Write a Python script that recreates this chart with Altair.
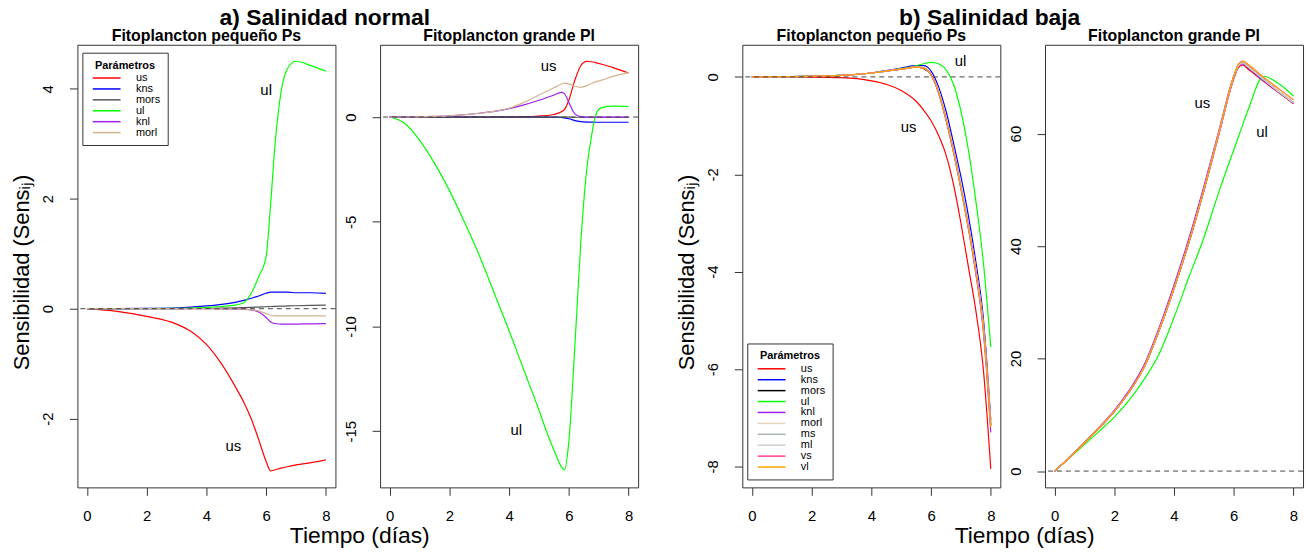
import altair as alt
import pandas as pd

FONT = "Liberation Sans"

# ---------------- a) Salinidad normal : Fitoplancton pequeño Ps ----------------
PARAMS_A = ["us", "kns", "mors", "ul", "knl", "morl"]
COLORS_A = ["#FF0000", "#0000FF", "#555555", "#00FF00", "#A020F0", "#D2B48C"]

T_A_PS = [0, 1, 2, 3, 3.5, 4, 4.5, 5, 5.25, 5.5, 5.75, 6, 6.15, 6.3, 6.5, 6.75, 7, 7.5, 8]
A_PS_US = [0, -0.05, -0.14, -0.28, -0.42, -0.65, -1.0, -1.45, -1.7, -2.0, -2.38, -2.78, -2.95, -2.93, -2.9, -2.87, -2.84, -2.8, -2.75]
A_PS_KNS = [0, 0.001, 0.005, 0.015, 0.03, 0.05, 0.08, 0.12, 0.15, 0.19, 0.23, 0.28, 0.3, 0.3, 0.3, 0.3, 0.29, 0.29, 0.28]
A_PS_MORS = [0, 0, 0.001, 0.002, 0.004, 0.006, 0.01, 0.015, 0.02, 0.025, 0.03, 0.035, 0.04, 0.042, 0.045, 0.05, 0.054, 0.06, 0.066]
A_PS_UL = [0, 0, 0.002, 0.006, 0.01, 0.02, 0.04, 0.07, 0.11, 0.28, 0.58, 0.95, 1.9, 3.0, 3.95, 4.4, 4.5, 4.42, 4.32]
A_PS_KNL = [0, 0, 0, 0, 0, -0.001, -0.002, -0.005, -0.01, -0.02, -0.06, -0.16, -0.24, -0.27, -0.28, -0.28, -0.28, -0.275, -0.27]
A_PS_MORL = [0, 0, 0, 0, 0, -0.001, -0.002, -0.005, -0.01, -0.02, -0.04, -0.09, -0.12, -0.13, -0.13, -0.13, -0.13, -0.13, -0.13]

# ---------------- a) Salinidad normal : Fitoplancton grande Pl ----------------
T_A_PL = [0, 0.5, 1, 1.5, 2, 2.5, 3, 3.5, 4, 4.5, 5, 5.25, 5.5, 5.75, 5.85, 6, 6.2, 6.4, 6.6, 6.75, 6.9, 7.1, 7.5, 8]
A_PL_US = [0, 0, 0, 0, 0, 0, 0, 0.005, 0.01, 0.02, 0.05, 0.07, 0.12, 0.25, 0.35, 0.8, 1.75, 2.45, 2.66, 2.64, 2.6, 2.52, 2.35, 2.1]
A_PL_KNS = [0, 0, 0, 0, 0, 0, 0, 0, 0, 0, 0, 0, 0, -0.02, -0.04, -0.08, -0.17, -0.22, -0.24, -0.245, -0.25, -0.25, -0.25, -0.25]
A_PL_MORS = [0, 0, 0, 0, 0, 0, 0, 0, 0, 0, 0, 0, 0, 0, 0, -0.005, -0.01, -0.01, -0.01, -0.01, -0.01, -0.01, -0.01, -0.01]
A_PL_UL = [0, -0.3, -1.1, -2.2, -3.5, -5.0, -6.6, -8.4, -10.2, -12.1, -14.0, -15.0, -15.9, -16.7, -16.85, -15.5, -11.0, -6.0, -2.5, -1.0, 0.1, 0.45, 0.52, 0.5]
A_PL_KNL = [0, 0.003, 0.01, 0.03, 0.06, 0.11, 0.18, 0.27, 0.4, 0.58, 0.8, 0.92, 1.05, 1.18, 1.12, 0.7, 0.15, 0.02, 0, 0, 0, 0, 0, 0]
A_PL_MORL = [0, 0.003, 0.01, 0.03, 0.06, 0.11, 0.18, 0.27, 0.42, 0.7, 1.05, 1.22, 1.4, 1.58, 1.62, 1.58, 1.47, 1.42, 1.5, 1.6, 1.68, 1.76, 1.95, 2.12]

# ---------------- b) Salinidad baja ----------------
PARAMS_B = ["us", "kns", "mors", "ul", "knl", "morl", "ms", "ml", "vs", "vl"]
COLORS_B = ["#FF0000", "#0000FF", "#000000", "#00FF00", "#A020F0", "#E6D5BC",
            "#A9B1B1", "#CFCFCF", "#FF3E96", "#FFA500"]

T_B_PS = [0, 1, 2, 3, 4, 4.5, 5, 5.5, 5.75, 6, 6.25, 6.5, 6.75, 7, 7.25, 7.5, 7.75, 8]
B_PS_US = [0, 0, -0.003, -0.015, -0.08, -0.15, -0.28, -0.5, -0.68, -0.9, -1.2, -1.6, -2.2, -3.0, -3.9, -4.8, -6.0, -8.05]
B_PS_KNS = [0, 0.005, 0.01, 0.03, 0.08, 0.13, 0.18, 0.23, 0.23, 0.12, -0.2, -0.7, -1.35, -2.05, -2.85, -3.8, -4.95, -7.05]
B_PS_MORS = [0, 0.005, 0.01, 0.03, 0.08, 0.12, 0.16, 0.2, 0.17, 0.04, -0.32, -0.87, -1.52, -2.27, -3.07, -3.97, -5.12, -7.15]
B_PS_UL = [0, 0.005, 0.01, 0.03, 0.08, 0.12, 0.17, 0.23, 0.27, 0.3, 0.27, 0.15, -0.15, -0.7, -1.5, -2.55, -3.8, -5.55]
B_PS_KNL = [0, 0.005, 0.01, 0.03, 0.08, 0.12, 0.16, 0.2, 0.18, 0.04, -0.32, -0.88, -1.55, -2.3, -3.12, -4.05, -5.22, -7.3]
B_PS_MORL = [0, 0.005, 0.01, 0.03, 0.08, 0.12, 0.16, 0.2, 0.18, 0.05, -0.3, -0.85, -1.5, -2.25, -3.05, -3.95, -5.1, -7.15]
B_PS_MS = [0, 0.005, 0.01, 0.03, 0.08, 0.12, 0.16, 0.2, 0.18, 0.05, -0.3, -0.85, -1.5, -2.25, -3.05, -3.95, -5.1, -7.15]
B_PS_ML = [0, 0.005, 0.01, 0.03, 0.08, 0.12, 0.16, 0.2, 0.18, 0.05, -0.3, -0.85, -1.5, -2.25, -3.05, -3.95, -5.1, -7.15]
B_PS_VS = [0, 0.005, 0.01, 0.03, 0.08, 0.12, 0.16, 0.2, 0.18, 0.05, -0.31, -0.86, -1.51, -2.27, -3.08, -3.98, -5.14, -7.18]
B_PS_VL = [0, 0.005, 0.01, 0.03, 0.08, 0.12, 0.16, 0.2, 0.18, 0.05, -0.31, -0.86, -1.52, -2.28, -3.09, -4.0, -5.16, -7.2]

T_B_PL = [0, 0.5, 1, 1.5, 2, 2.5, 3, 3.5, 4, 4.5, 5, 5.5, 6, 6.15, 6.3, 6.5, 7, 7.5, 8]
B_PL_US = [0, 2.4, 5.0, 7.7, 10.6, 14.1, 18.5, 25.0, 32.4, 40.6, 49.8, 59.8, 69.7, 71.7, 72.2, 71.4, 69.3, 67.3, 65.3]
B_PL_KNS = [0, 2.4, 5.0, 7.7, 10.6, 14.1, 18.5, 25.0, 32.5, 40.8, 50.0, 60.0, 70.0, 72.0, 72.6, 71.8, 69.6, 67.5, 65.5]
B_PL_MORS = [0, 2.4, 5.0, 7.7, 10.6, 14.1, 18.5, 25.0, 32.5, 40.8, 50.0, 60.0, 70.0, 72.0, 72.6, 71.8, 69.6, 67.5, 65.5]
B_PL_UL = [0, 2.3, 4.7, 7.1, 9.6, 12.6, 16.3, 20.8, 27.3, 34.5, 41.5, 49.6, 57.1, 59.3, 61.6, 64.5, 70.2, 68.9, 66.7]
B_PL_KNL = [0, 2.45, 5.1, 7.85, 10.8, 14.4, 18.9, 25.5, 33.1, 41.4, 50.6, 60.5, 70.2, 72.0, 72.4, 71.6, 69.4, 67.4, 65.4]
B_PL_MORL = [0, 2.4, 5.0, 7.7, 10.6, 14.1, 18.5, 25.0, 32.5, 40.8, 50.0, 60.0, 70.0, 72.0, 72.6, 71.8, 69.6, 67.5, 65.5]
B_PL_MS = [0, 2.4, 5.0, 7.7, 10.6, 14.1, 18.5, 25.0, 32.5, 40.8, 50.0, 60.0, 70.0, 72.0, 72.6, 71.8, 69.6, 67.5, 65.5]
B_PL_ML = [0, 2.4, 5.0, 7.7, 10.6, 14.1, 18.5, 25.0, 32.5, 40.8, 50.0, 60.0, 70.0, 72.0, 72.6, 71.8, 69.6, 67.5, 65.5]
B_PL_VS = [0, 2.4, 5.0, 7.7, 10.6, 14.1, 18.5, 25.0, 32.5, 40.8, 50.0, 60.1, 70.2, 72.3, 72.9, 72.2, 70.0, 68.0, 66.0]
B_PL_VL = [0, 2.4, 5.0, 7.7, 10.6, 14.1, 18.5, 25.0, 32.5, 40.8, 50.0, 60.1, 70.2, 72.3, 72.9, 72.2, 70.0, 68.0, 66.0]

# curve annotations (label, t, value)
LAB_A_PS = [("us", 4.9, -2.5), ("ul", 6.0, 3.97)]
LAB_A_PL = [("us", 5.32, 2.45), ("ul", 4.24, -14.95)]
LAB_B_PS = [("ul", 6.99, 0.33), ("us", 5.25, -1.02)]
LAB_B_PL = [("us", 4.95, 65.5), ("ul", 6.95, 60.2)]

X_TICKS = [0, 2, 4, 6, 8]
W, H = 260, 446


def to_df(T, series):
    rows = []
    for name, vals in series.items():
        for t, v in zip(T, vals):
            rows.append({"t": t, "v": v, "param": name})
    return pd.DataFrame(rows)


def panel(df, params, colors, ydom, yticks, title, labels, legend=None,
          ytitle=False, xtitle=False):
    xkw = dict(values=X_TICKS, tickSize=8, tickColor="#333", tickWidth=1,
               labelFontSize=15, labelFont=FONT, labelColor="black",
               labelPadding=13, domain=False, grid=False,
               labelExpr="toString(datum.value)")
    if xtitle:
        xkw.update(title="Tiempo (días)", titleFontSize=23, titleFont=FONT,
                   titleFontWeight="normal", titleColor="black", titleX=-21,
                   titleY=38, titleAlign="center", titleBaseline="top")
    else:
        xkw.update(title="")
    ykw = dict(values=yticks, tickSize=8, tickColor="#333", tickWidth=1,
               labelFontSize=15, labelFont=FONT, labelColor="black",
               labelAngle=270, labelAlign="center", labelBaseline="bottom",
               labelPadding=14, domain=False, grid=False,
               labelExpr="toString(datum.value)")
    if ytitle:
        ykw.update(title="Sensibilidad (Sensᵢⱼ)", titleFontSize=22, titleFont=FONT,
                   titleFontWeight="normal", titleColor="black", titleAngle=270,
                   titleX=-56, titleY=H / 2 + 6, titleAlign="center",
                   titleBaseline="middle")
    else:
        ykw.update(title="")
    x_enc = alt.X("t:Q", scale=alt.Scale(domain=[-0.32, 8.32], nice=False, zero=False),
                  axis=alt.Axis(**xkw))
    y_enc = alt.Y("v:Q", scale=alt.Scale(domain=ydom, nice=False, zero=False),
                  axis=alt.Axis(**ykw))
    color = alt.Color("param:N", scale=alt.Scale(domain=params, range=colors),
                      sort=params, legend=legend)
    lines = alt.Chart(df).mark_line(strokeWidth=1.2, interpolate="monotone",
                                    clip=True).encode(x=x_enc, y=y_enc, color=color)
    rule = alt.Chart(pd.DataFrame({"v": [0]})).mark_rule(
        strokeDash=[5, 4], color="#444", strokeWidth=1).encode(y=y_enc)
    lab_df = pd.DataFrame(labels, columns=["lab", "t", "v"])
    texts = alt.Chart(lab_df).mark_text(fontSize=15, font=FONT, color="black").encode(
        x=x_enc, y=y_enc, text="lab:N")
    return alt.layer(lines, rule, texts).properties(
        width=W, height=H,
        title=alt.TitleParams(title, fontSize=16, font=FONT, fontWeight="bold",
                              color="black", offset=1, anchor="middle"))


def legend_at(x, y):
    return alt.Legend(title="Parámetros", orient="none", legendX=x, legendY=y,
                      direction="vertical", titleFontSize=11, titleFont=FONT,
                      titleFontWeight="bold", titleColor="black",
                      titleAnchor="middle", titlePadding=2,
                      labelFontSize=11, labelFont=FONT, labelColor="black",
                      labelExpr="datum.label + '\u00a0\u00a0\u00a0\u00a0\u00a0\u00a0\u00a0\u00a0\u00a0\u00a0'",
                      symbolType="M-3.5,0H3.5", symbolSize=64, symbolOffset=12,
                      symbolStrokeWidth=1.5, rowPadding=-1.7, labelOffset=24,
                      padding=7, strokeColor="#333", fillColor="white",
                      cornerRadius=0)


df1 = to_df(T_A_PS, {"us": A_PS_US, "kns": A_PS_KNS, "mors": A_PS_MORS,
                     "ul": A_PS_UL, "knl": A_PS_KNL, "morl": A_PS_MORL})
df2 = to_df(T_A_PL, {"us": A_PL_US, "kns": A_PL_KNS, "mors": A_PL_MORS,
                     "ul": A_PL_UL, "knl": A_PL_KNL, "morl": A_PL_MORL})
df3 = to_df(T_B_PS, {"us": B_PS_US, "kns": B_PS_KNS, "mors": B_PS_MORS,
                     "ul": B_PS_UL, "knl": B_PS_KNL, "morl": B_PS_MORL,
                     "ms": B_PS_MS, "ml": B_PS_ML, "vs": B_PS_VS, "vl": B_PS_VL})
df4 = to_df(T_B_PL, {"us": B_PL_US, "kns": B_PL_KNS, "mors": B_PL_MORS,
                     "ul": B_PL_UL, "knl": B_PL_KNL, "morl": B_PL_MORL,
                     "ms": B_PL_MS, "ml": B_PL_ML, "vs": B_PL_VS, "vl": B_PL_VL})

p1 = panel(df1, PARAMS_A, COLORS_A, [-3.25, 4.8], [-2, 0, 2, 4],
           "Fitoplancton pequeño Ps", LAB_A_PS, legend=legend_at(5, 8), ytitle=True)
p2 = panel(df2, PARAMS_A, COLORS_A, [-17.68, 3.45], [-15, -10, -5, 0],
           "Fitoplancton grande Pl", LAB_A_PL, legend=None, xtitle=True)
p3 = panel(df3, PARAMS_B, COLORS_B, [-8.43, 0.66], [-8, -6, -4, -2, 0],
           "Fitoplancton pequeño Ps", LAB_B_PS, legend=legend_at(5, 301), ytitle=True)
p4 = panel(df4, PARAMS_B, COLORS_B, [-2.9, 75.8], [0, 20, 40, 60],
           "Fitoplancton grande Pl", LAB_B_PL, legend=None, xtitle=True)


def group(a, b, title):
    return alt.hconcat(a, b, spacing=45, bounds="flush",
                       title=alt.TitleParams(title, fontSize=23, font=FONT,
                                             fontWeight="bold", color="black",
                                             anchor="middle", offset=-2.5)
                       ).resolve_scale(x="independent", y="independent",
                                       color="independent"
                       ).resolve_legend(color="independent")


ga = group(p1, p2, "a) Salinidad normal")
gb = group(p3, p4, "b) Salinidad baja")

chart = alt.hconcat(ga, gb, spacing=36, bounds="full").resolve_scale(
    x="independent", y="independent", color="independent"
).resolve_legend(color="independent").configure(
    padding={"left": 10, "top": 5, "right": 2, "bottom": 2}, font=FONT
).configure_view(stroke="#333", strokeWidth=1)

chart.save("out.html", embed_options={"renderer": "svg", "actions": False})
